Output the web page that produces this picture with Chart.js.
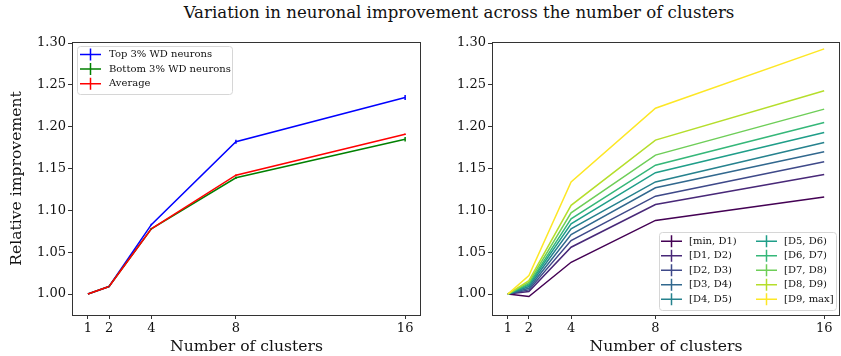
<!DOCTYPE html>
<html>
<head>
<meta charset="utf-8">
<script src="https://cdn.jsdelivr.net/npm/chart.js@4/dist/chart.umd.min.js"></script>
<style>
    body { margin: 0; background: #fff; }
    #wrap { position: relative; width: 841px; height: 356px; font-family: 'DejaVu Serif', serif; }
    #title { position: absolute; left: 0; top: 3px; width: 918px; text-align: center; font-size: 16.6px; color: #111; }
    canvas { position: absolute; top: 0; }
    #left { left: 0; }
    #right { left: 430px; }
</style>
</head>
<body>
<div id="wrap">
    <div id="title">Variation in neuronal improvement across the number of clusters</div>
    <canvas id="left" width="430" height="356"></canvas>
    <canvas id="right" width="411" height="356"></canvas>
</div>
<script>
// ─── DATOS ────────────────────────────────────────────────
const clusters = [1, 2, 4, 8, 16]
const xTicks = [1, 2, 4, 8, 16]
const yTicks = [1.00, 1.05, 1.10, 1.15, 1.20, 1.25, 1.30]

const topLabel = 'Top 3% WD neurons'
const topVals = [1.000, 1.009, 1.083, 1.182, 1.235]
const topErr = [0, 0.0005, 0.001, 0.0025, 0.003]

const bottomLabel = 'Bottom 3% WD neurons'
const bottomVals = [1.000, 1.009, 1.078, 1.139, 1.185]
const bottomErr = [0, 0.0005, 0.001, 0.0015, 0.0028]

const avgLabel = 'Average'
const avgVals = [1.000, 1.009, 1.078, 1.142, 1.191]
const avgErr = [0, 0.0003, 0.0005, 0.001, 0.001]

const decileLabels = ['[min, D1)', '[D1, D2)', '[D2, D3)', '[D3, D4)', '[D4, D5)',
                      '[D5, D6)', '[D6, D7)', '[D7, D8)', '[D8, D9)', '[D9, max]']
const decileColors = ['#440154', '#482878', '#3e4989', '#31688e', '#26828e',
                      '#1f9e89', '#35b779', '#6ece58', '#b5de2b', '#fde725']
const decileVals = [
    [1.000, 0.997, 1.038, 1.088, 1.116],
    [1.000, 1.003, 1.056, 1.107, 1.143],
    [1.000, 1.005, 1.064, 1.117, 1.158],
    [1.000, 1.007, 1.071, 1.127, 1.170],
    [1.000, 1.009, 1.078, 1.134, 1.181],
    [1.000, 1.011, 1.084, 1.145, 1.193],
    [1.000, 1.012, 1.090, 1.154, 1.205],
    [1.000, 1.014, 1.097, 1.166, 1.221],
    [1.000, 1.016, 1.106, 1.184, 1.243],
    [1.000, 1.022, 1.134, 1.222, 1.293]
]

const FONT = "'DejaVu Serif', serif"
Chart.defaults.font.family = FONT
Chart.defaults.color = '#111'

// ─── PLUGINS ──────────────────────────────────────────────
// marco completo alrededor del área del gráfico
const framePlugin = {
    id: 'frame',
    afterDraw(chart) {
        const { ctx, chartArea: a } = chart
        ctx.save()
        ctx.strokeStyle = '#333'
        ctx.lineWidth = 1
        ctx.strokeRect(a.left + 0.5, a.top + 0.5, a.right - a.left - 1, a.bottom - a.top)
        ctx.restore()
    }
}

// barras de error verticales (sin capuchón)
const errorBarsPlugin = {
    id: 'errorBars',
    afterDatasetsDraw(chart) {
        const { ctx, scales: { x, y } } = chart
        ctx.save()
        chart.data.datasets.forEach(ds => {
            if (!ds.errors) return
            ctx.strokeStyle = ds.borderColor
            ctx.lineWidth = 1.5
            ds.data.forEach((p, i) => {
                const e = ds.errors[i]
                if (!e) return
                const px = x.getPixelForValue(p.x)
                ctx.beginPath()
                ctx.moveTo(px, y.getPixelForValue(p.y - e))
                ctx.lineTo(px, y.getPixelForValue(p.y + e))
                ctx.stroke()
            })
        })
        ctx.restore()
    }
}

// leyenda dentro del área, estilo errorbar (+)
const boxLegendPlugin = {
    id: 'boxLegend',
    afterDraw(chart, args, opts) {
        const { ctx } = chart
        const sets = chart.data.datasets
        ctx.save()
        ctx.fillStyle = 'rgba(255,255,255,0.85)'
        ctx.strokeStyle = '#d6d6d6'
        ctx.lineWidth = 1
        ctx.beginPath()
        ctx.roundRect(opts.x + 0.5, opts.y + 0.5, opts.w, opts.h, 3)
        ctx.fill()
        ctx.stroke()
        ctx.font = `${opts.fontSize}px ${FONT}`
        ctx.textBaseline = 'middle'
        sets.forEach((ds, i) => {
            const col = Math.floor(i / opts.rows)
            const row = i % opts.rows
            const hx = opts.cols[col]
            const hy = opts.rowY + row * opts.rowGap
            ctx.strokeStyle = ds.borderColor
            ctx.lineWidth = 1.5
            ctx.beginPath()
            ctx.moveTo(hx, hy)
            ctx.lineTo(hx + opts.handleW, hy)
            ctx.moveTo(hx + opts.handleW / 2, hy - 6)
            ctx.lineTo(hx + opts.handleW / 2, hy + 6)
            ctx.stroke()
            ctx.fillStyle = '#111'
            ctx.fillText(ds.label, hx + opts.handleW + opts.textGap, hy)
        })
        ctx.restore()
    }
}

// ─── CONFIG ───────────────────────────────────────────────
function points(vals) {
    return vals.map((v, i) => ({ x: clusters[i], y: v }))
}

function makeScales(yWidth, yTitle) {
    return {
        x: {
            type: 'linear',
            min: 0.25,
            max: 16.75,
            afterBuildTicks: s => { s.ticks = xTicks.map(v => ({ value: v })) },
            afterFit: s => { s.height = 41 },
            ticks: { font: { size: 13 }, padding: 2, maxRotation: 0, color: '#111' },
            grid: { drawOnChartArea: false, tickLength: 4, color: '#333' },
            border: { display: false },
            title: { display: true, text: 'Number of clusters', font: { size: 15.6 }, padding: 0, color: '#111' }
        },
        y: {
            type: 'linear',
            min: 0.975,
            max: 1.3012,
            afterBuildTicks: s => { s.ticks = yTicks.map(v => ({ value: v })) },
            afterFit: s => { s.width = yWidth },
            ticks: { font: { size: 13 }, padding: 2, callback: v => v.toFixed(2), color: '#111' },
            grid: { drawOnChartArea: false, tickLength: 4, color: '#333' },
            border: { display: false },
            title: { display: !!yTitle, text: yTitle, font: { size: 15.6 }, padding: { top: 8 }, color: '#111' }
        }
    }
}

const baseOptions = {
    responsive: false,
    animation: false,
    elements: { point: { radius: 0 }, line: { borderWidth: 1.5, tension: 0 } },
    plugins: { legend: { display: false }, tooltip: { enabled: false } }
}

new Chart(document.getElementById('left'), {
    type: 'line',
    data: {
        datasets: [
            { label: topLabel, data: points(topVals), errors: topErr, borderColor: '#0000ff', order: 3 },
            { label: bottomLabel, data: points(bottomVals), errors: bottomErr, borderColor: '#008000', order: 2 },
            { label: avgLabel, data: points(avgVals), errors: avgErr, borderColor: '#ff0000', order: 1 }
        ]
    },
    options: {
        ...baseOptions,
        layout: { padding: { top: 42, right: 9, left: 0, bottom: 0 } },
        scales: makeScales(72, 'Relative improvement'),
        plugins: {
            ...baseOptions.plugins,
            boxLegend: { x: 77, y: 46, w: 155, h: 48, rows: 3, cols: [80], rowY: 54.5, rowGap: 14.6,
                         handleW: 21, textGap: 8, fontSize: 10 }
        }
    },
    plugins: [framePlugin, errorBarsPlugin, boxLegendPlugin]
})

new Chart(document.getElementById('right'), {
    type: 'line',
    data: {
        datasets: decileLabels.map((lab, i) => ({
            label: lab,
            data: points(decileVals[i]),
            borderColor: decileColors[i],
            order: 10 - i
        }))
    },
    options: {
        ...baseOptions,
        layout: { padding: { top: 42, right: 1, left: 0, bottom: 0 } },
        scales: makeScales(62, ''),
        plugins: {
            ...baseOptions.plugins,
            boxLegend: { x: 229, y: 232, w: 177, h: 78, rows: 5, cols: [231, 326], rowY: 241.3, rowGap: 14.5,
                         handleW: 21, textGap: 7, fontSize: 10 }
        }
    },
    plugins: [framePlugin, errorBarsPlugin, boxLegendPlugin]
})
</script>
</body>
</html>
